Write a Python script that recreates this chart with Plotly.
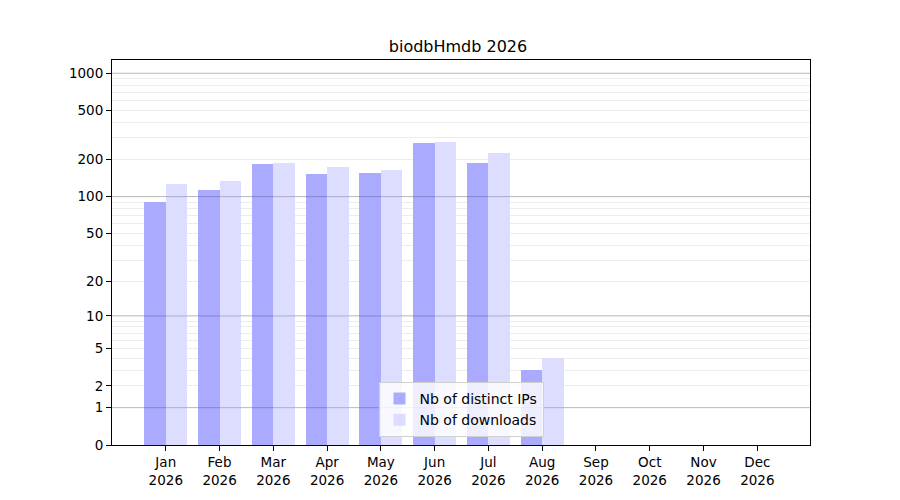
import numpy as np
import plotly.graph_objects as go

months = ["Jan", "Feb", "Mar", "Apr", "May", "Jun", "Jul", "Aug", "Sep", "Oct", "Nov", "Dec"]
year = "2026"
distinct_ips = [91, 113, 185, 154, 157, 273, 188, 3, 0, 0, 0, 0]
downloads = [127, 134, 189, 174, 165, 278, 227, 4, 0, 0, 0, 0]
y_ticks = [0, 1, 2, 5, 10, 20, 50, 100, 200, 500, 1000]
y_major_grid = [1, 10, 100, 1000]
y_minor_grid = [2, 3, 4, 5, 6, 7, 8, 9, 20, 30, 40, 50, 60, 70, 80, 90,
                200, 300, 400, 500, 600, 700, 800, 900]


def scale(v):
    # log10(1 + x) scale, same as the original function scale
    return np.log10(1 + np.asarray(v, dtype=float))


x = np.arange(len(months))
labels = [f"{m}<br>{year}" for m in months]

fig = go.Figure()
fig.add_trace(go.Bar(x=x - 0.2, y=scale(distinct_ips), width=0.4,
                     name="Nb of distinct IPs", marker=dict(color="#aaaaff", line_width=0),
                     customdata=distinct_ips, hovertemplate="%{customdata}"))
fig.add_trace(go.Bar(x=x + 0.2, y=scale(downloads), width=0.4,
                     name="Nb of downloads", marker=dict(color="#ddddff", line_width=0),
                     customdata=downloads, hovertemplate="%{customdata}"))

for v in y_major_grid:
    fig.add_shape(type="line", xref="paper", x0=0, x1=1, yref="y",
                  y0=float(scale(v)), y1=float(scale(v)),
                  line=dict(color="rgba(0,0,0,0.22)", width=1), layer="above")

fig.update_layout(
    width=900, height=500,
    paper_bgcolor="white", plot_bgcolor="white",
    margin=dict(l=104, r=98, t=52, b=63),
    font=dict(family="DejaVu Sans", size=13.5, color="black"),
    title=dict(text="biodbHmdb 2026", x=0.5, xanchor="center", y=0.924, yanchor="middle",
               font=dict(size=16)),
    barmode="overlay", bargap=0,
    showlegend=True,
    legend=dict(x=0.5, y=0.021, xanchor="center", yanchor="bottom",
                bgcolor="rgba(255,255,255,0.8)", bordercolor="#d0d0d0", borderwidth=1,
                font=dict(size=14), itemwidth=30, tracegroupgap=0),
)
fig.update_xaxes(range=[-1, 11.98], tickmode="array", tickvals=x, ticktext=labels,
                 showgrid=False, zeroline=False,
                 showline=True, linecolor="black", linewidth=1, mirror=True,
                 ticks="outside", ticklen=5, tickcolor="black")
fig.update_yaxes(range=[0, 3.107], tickmode="array", tickvals=scale(y_ticks),
                 ticktext=[str(t) for t in y_ticks],
                 showgrid=True, gridcolor="#ececec", gridwidth=1, zeroline=False,
                 minor=dict(tickmode="array", tickvals=scale(y_minor_grid), showgrid=True,
                            gridcolor="#ececec", gridwidth=1, ticks=""),
                 layer="above traces",
                 showline=True, linecolor="black", linewidth=1, mirror=True,
                 ticks="outside", ticklen=5, tickcolor="black")

fig.write_html("out.html")
